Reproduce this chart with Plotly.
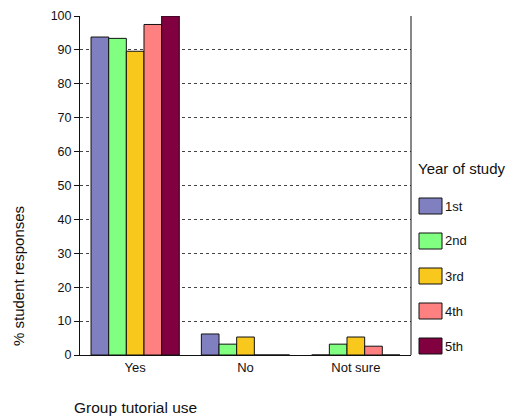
import plotly.graph_objects as go

categories = ["Yes", "No", "Not sure"]
years = ["1st", "2nd", "3rd", "4th", "5th"]
values = {
    "1st": [93.8, 6.2, 0],
    "2nd": [93.4, 3.2, 3.2],
    "3rd": [89.6, 5.3, 5.3],
    "4th": [97.5, 0, 2.6],
    "5th": [100, 0, 0],
}
colors = {
    "1st": "#8080C0",
    "2nd": "#80FF80",
    "3rd": "#F8C81C",
    "4th": "#FF8080",
    "5th": "#800040",
}
y_ticks = list(range(0, 101, 10))
legend_title = "Year of study"

# page body has an 8px margin; figure sized so that it fits the window
OFF = 8
W, H = 521 - OFF, 420 - OFF
L, T = 80 - OFF, 16 - OFF
pw, ph = 331, 339
R, B = W - L - pw, H - T - ph


def px_x(sx):
    return (sx - OFF - L) / pw


def px_y(sy):
    return (T + ph + OFF - sy) / ph


fig = go.Figure()
for yr in years:
    fig.add_trace(go.Bar(
        x=categories, y=values[yr], name=yr,
        marker=dict(color=colors[yr], line=dict(color="#111111", width=1)),
        showlegend=False,
    ))

shapes = [
    dict(type="line", xref="paper", yref="paper", x0=1, x1=1, y0=0, y1=1,
         line=dict(color="#111111", width=1)),
]
annotations = [
    dict(text="Group tutorial use", xref="paper", yref="paper",
         x=px_x(72), y=px_y(407), xanchor="left", yanchor="middle",
         showarrow=False, font=dict(size=15.5)),
    dict(text="% student responses", xref="paper", yref="paper",
         x=px_x(18), y=px_y(276), xanchor="center", yanchor="middle",
         textangle=-90, showarrow=False, font=dict(size=15)),
    dict(text=legend_title, xref="paper", yref="paper",
         x=px_x(416), y=px_y(168), xanchor="left", yanchor="middle",
         showarrow=False, font=dict(size=15)),
]
# legend entries (swatch + label), one per series
for i, yr in enumerate(years):
    cy = 206 + 35 * i
    shapes.append(dict(type="rect", xref="paper", yref="paper",
                       x0=px_x(419), x1=px_x(442), y0=px_y(cy + 8), y1=px_y(cy - 8),
                       fillcolor=colors[yr], line=dict(color="#111111", width=1)))
    annotations.append(dict(text=yr, xref="paper", yref="paper",
                            x=px_x(443), y=px_y(cy), xanchor="left", yanchor="middle",
                            showarrow=False, font=dict(size=13)))

fig.update_layout(
    width=W, height=H,
    margin=dict(l=L, r=R, t=T, b=B, autoexpand=False),
    paper_bgcolor="white", plot_bgcolor="white",
    font=dict(family="Liberation Sans, Arial, sans-serif", size=13, color="#111111"),
    barmode="group", bargap=0.2, bargroupgap=0,
    showlegend=False,
    xaxis=dict(
        showline=True, linecolor="#111111", linewidth=1, mirror=False,
        ticks="", tickfont=dict(size=13),
    ),
    yaxis=dict(
        range=[0, 100], tickvals=y_ticks, showline=True, linecolor="#111111",
        linewidth=1, ticks="outside", ticklen=5, tickcolor="#111111",
        showgrid=True, gridcolor="#444444", griddash="3px,3px", gridwidth=1,
        zeroline=False, tickfont=dict(size=12.5),
    ),
    annotations=annotations,
    shapes=shapes,
)

fig.write_html("out.html")
